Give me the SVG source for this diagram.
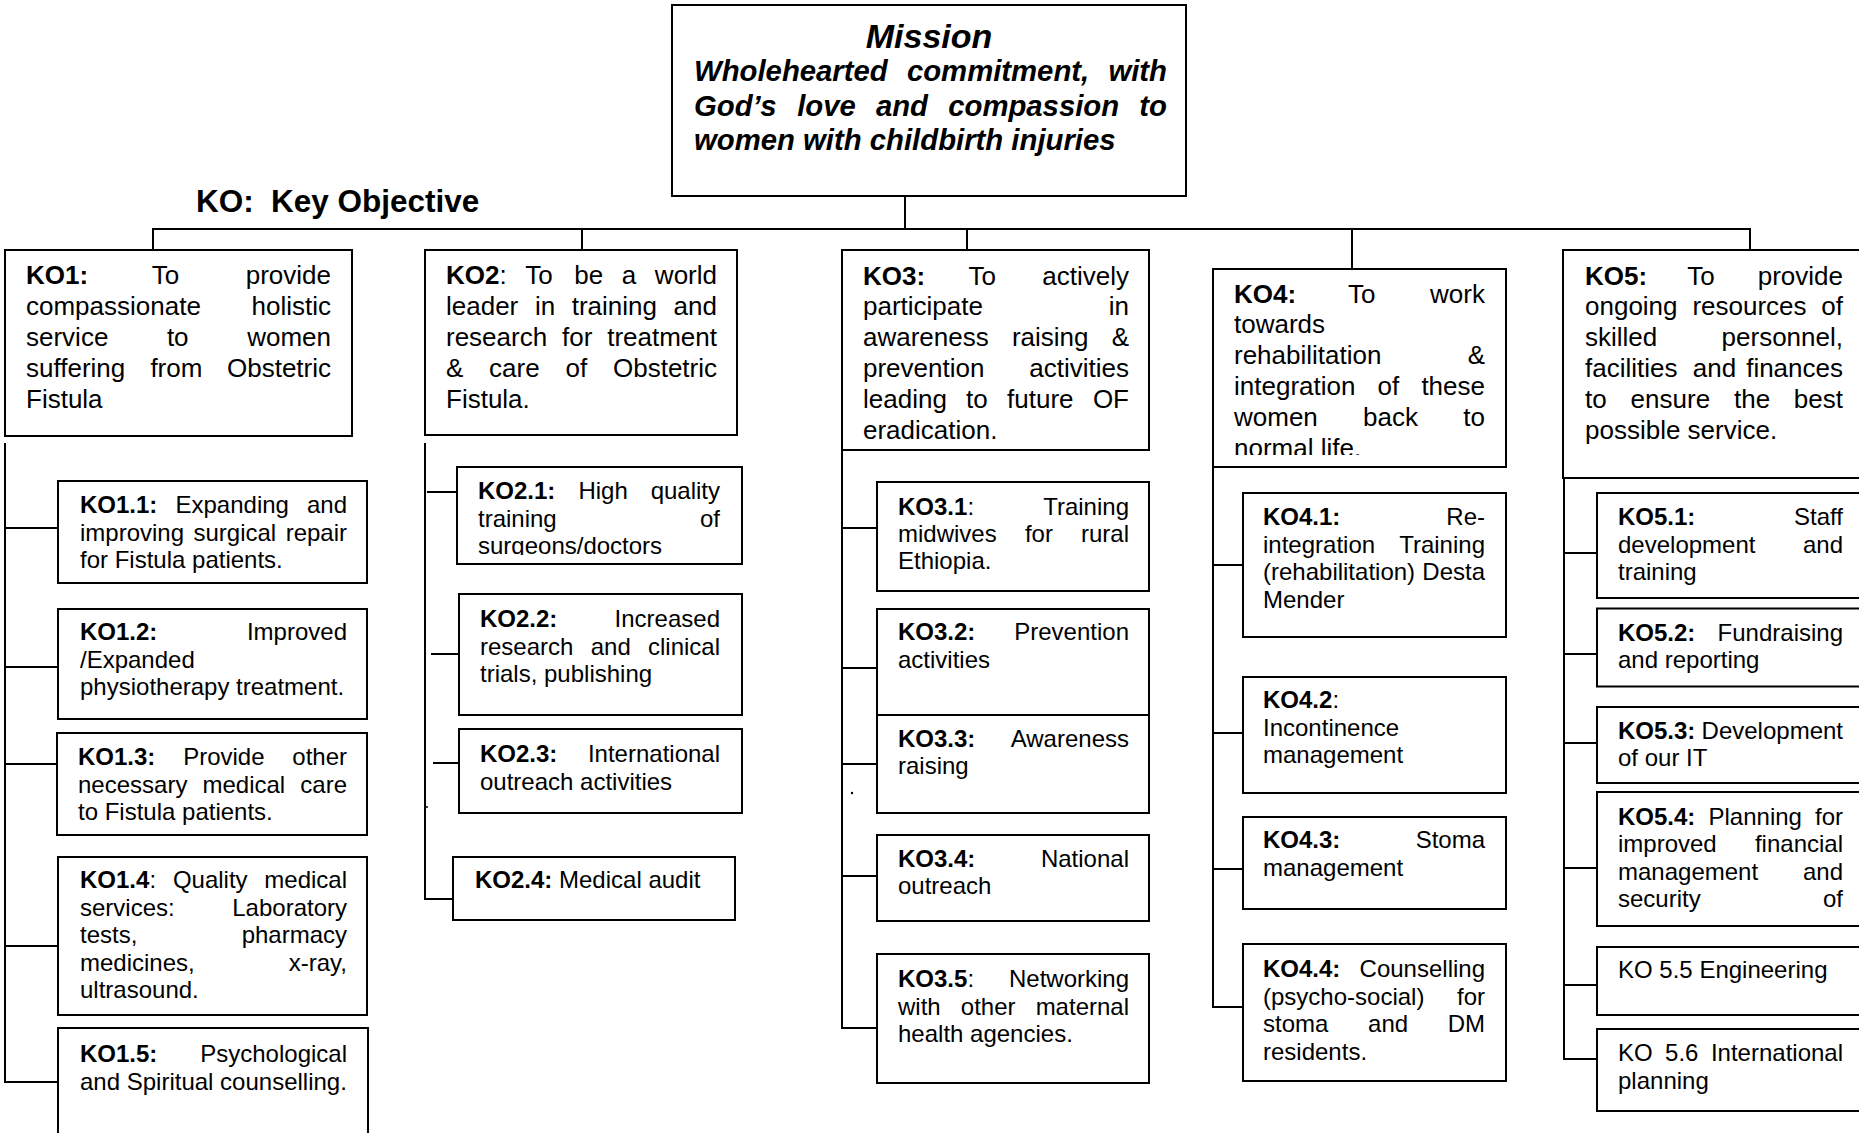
<svg xmlns="http://www.w3.org/2000/svg" width="1859" height="1133" viewBox="0 0 1859 1133">
<style>
rect.box{fill:#fff;stroke:#000;stroke-width:2}
.c line{stroke:#000;stroke-width:2}
text{font-family:"Liberation Sans",Arial,sans-serif;fill:#000}
.m{font-size:26px}
.s{font-size:24px}
.b{font-weight:bold}
.e{text-anchor:end}
.mi{font-weight:bold;font-style:italic;font-size:29.3px}
.mt{font-weight:bold;font-style:italic;font-size:34px;text-anchor:middle}
</style>
<defs>
<clipPath id="clip4"><rect x="1220" y="270" width="280" height="185"/></clipPath>
<clipPath id="clip21"><rect x="460" y="470" width="280" height="85"/></clipPath>
</defs>
<rect width="1859" height="1133" fill="#fff"/>
<g class="c" id="connectors">
<line x1="905" y1="196" x2="905" y2="229"/>
<line x1="152" y1="229" x2="1751" y2="229"/>
<line x1="153" y1="229" x2="153" y2="250"/>
<line x1="582" y1="229" x2="582" y2="250"/>
<line x1="967" y1="229" x2="967" y2="250"/>
<line x1="1352" y1="229" x2="1352" y2="269"/>
<line x1="1750" y1="229" x2="1750" y2="250"/>
<line x1="5" y1="443" x2="5" y2="1083"/>
<line x1="5" y1="528" x2="58" y2="528"/>
<line x1="5" y1="667" x2="58" y2="667"/>
<line x1="5" y1="764" x2="57" y2="764"/>
<line x1="5" y1="946" x2="58" y2="946"/>
<line x1="4" y1="1082" x2="58" y2="1082"/>
<line x1="425" y1="443" x2="425" y2="900"/>
<line x1="427" y1="492" x2="457" y2="492"/>
<line x1="431" y1="654" x2="459" y2="654"/>
<line x1="433" y1="763" x2="459" y2="763"/>
<line x1="424" y1="899" x2="453" y2="899"/>
<line x1="842" y1="358" x2="842" y2="1029"/>
<line x1="842" y1="528" x2="877" y2="528"/>
<line x1="842" y1="668" x2="877" y2="668"/>
<line x1="842" y1="764" x2="877" y2="764"/>
<line x1="842" y1="876" x2="877" y2="876"/>
<line x1="841" y1="1028" x2="877" y2="1028"/>
<line x1="1213" y1="450" x2="1213" y2="1008"/>
<line x1="1213" y1="565" x2="1243" y2="565"/>
<line x1="1213" y1="733" x2="1243" y2="733"/>
<line x1="1213" y1="869" x2="1243" y2="869"/>
<line x1="1212" y1="1007" x2="1243" y2="1007"/>
<line x1="1564" y1="478" x2="1564" y2="1060"/>
<line x1="1564" y1="553" x2="1597" y2="553"/>
<line x1="1564" y1="654" x2="1597" y2="654"/>
<line x1="1564" y1="743" x2="1597" y2="743"/>
<line x1="1564" y1="868" x2="1597" y2="868"/>
<line x1="1564" y1="985" x2="1597" y2="985"/>
<line x1="1563" y1="1059" x2="1597" y2="1059"/>
</g>
<circle cx="852" cy="793" r="1.2" fill="#000"/>
<circle cx="427" cy="807" r="1" fill="#000"/>

<g id="mission">
<rect class="box" x="672" y="5" width="514" height="191"/>
<text class="mt" x="929" y="48">Mission</text>
<text class="mi"><tspan x="694" y="81">Wholehearted</tspan><tspan x="906.9" y="81">commitment,</tspan><tspan x="1167" y="81" class="e">with</tspan></text>
<text class="mi"><tspan x="694" y="115.5">God’s</tspan><tspan x="797.2" y="115.5">love</tspan><tspan x="875.9" y="115.5">and</tspan><tspan x="948.2" y="115.5">compassion</tspan><tspan x="1167" y="115.5" class="e">to</tspan></text>
<text class="mi" x="694" y="150">women with childbirth injuries</text>
</g>

<text id="legend" class="b" font-size="31.5" x="196" y="212">KO:<tspan x="271">Key Objective</tspan></text>

<g id="ko1">
<rect class="box" x="5" y="250" width="347" height="186"/>
<text class="m"><tspan x="26" y="284" class="b">KO1:</tspan><tspan x="151.8" y="284">To</tspan><tspan x="331" y="284" class="e">provide</tspan></text>
<text class="m"><tspan x="26" y="315">compassionate</tspan><tspan x="331" y="315" class="e">holistic</tspan></text>
<text class="m"><tspan x="26" y="346">service</tspan><tspan x="166.9" y="346">to</tspan><tspan x="331" y="346" class="e">women</tspan></text>
<text class="m"><tspan x="26" y="377">suffering</tspan><tspan x="150.4" y="377">from</tspan><tspan x="331" y="377" class="e">Obstetric</tspan></text>
<text class="m" x="26" y="408">Fistula</text>
</g>

<g id="ko2">
<rect class="box" x="425" y="250" width="312" height="185"/>
<text class="m"><tspan x="446" y="284" class="b">KO2</tspan><tspan>:</tspan><tspan x="525.3" y="284">To</tspan><tspan x="574.2" y="284">be</tspan><tspan x="621.7" y="284">a</tspan><tspan x="717" y="284" class="e">world</tspan></text>
<text class="m"><tspan x="446" y="315">leader</tspan><tspan x="534.9" y="315">in</tspan><tspan x="571.7" y="315">training</tspan><tspan x="717" y="315" class="e">and</tspan></text>
<text class="m"><tspan x="446" y="346">research</tspan><tspan x="562" y="346">for</tspan><tspan x="717" y="346" class="e">treatment</tspan></text>
<text class="m"><tspan x="446" y="377">&amp;</tspan><tspan x="489.1" y="377">care</tspan><tspan x="565.5" y="377">of</tspan><tspan x="717" y="377" class="e">Obstetric</tspan></text>
<text class="m" x="446" y="408">Fistula.</text>
</g>

<g id="ko3">
<rect class="box" x="842" y="250" width="307" height="200"/>
<text class="m"><tspan x="863" y="284.5" class="b">KO3:</tspan><tspan x="968.6" y="284.5">To</tspan><tspan x="1129" y="284.5" class="e">actively</tspan></text>
<text class="m"><tspan x="863" y="315.3">participate</tspan><tspan x="1129" y="315.3" class="e">in</tspan></text>
<text class="m"><tspan x="863" y="346.1">awareness</tspan><tspan x="1011.9" y="346.1">raising</tspan><tspan x="1129" y="346.1" class="e">&amp;</tspan></text>
<text class="m"><tspan x="863" y="376.9">prevention</tspan><tspan x="1129" y="376.9" class="e">activities</tspan></text>
<text class="m"><tspan x="863" y="407.7">leading</tspan><tspan x="966.1" y="407.7">to</tspan><tspan x="1007.1" y="407.7">future</tspan><tspan x="1129" y="407.7" class="e">OF</tspan></text>
<text class="m" x="863" y="438.5">eradication.</text>
</g>

<g id="ko4">
<rect class="box" x="1213" y="269" width="293" height="198"/>
<text class="m"><tspan x="1234" y="302.5" class="b">KO4:</tspan><tspan x="1348" y="302.5">To</tspan><tspan x="1485" y="302.5" class="e">work</tspan></text>
<text class="m" x="1234" y="333.4">towards</text>
<text class="m"><tspan x="1234" y="364.3">rehabilitation</tspan><tspan x="1485" y="364.3" class="e">&amp;</tspan></text>
<text class="m"><tspan x="1234" y="395.2">integration</tspan><tspan x="1377.6" y="395.2">of</tspan><tspan x="1485" y="395.2" class="e">these</tspan></text>
<text class="m"><tspan x="1234" y="426.1">women</tspan><tspan x="1363.1" y="426.1">back</tspan><tspan x="1485" y="426.1" class="e">to</tspan></text>
<text class="m" x="1234" y="457" clip-path="url(#clip4)">normal life.</text>
</g>

<g id="ko5">
<rect class="box" x="1563" y="250" width="320" height="228"/>
<text class="m"><tspan x="1585" y="284.5" class="b">KO5:</tspan><tspan x="1687.3" y="284.5">To</tspan><tspan x="1843" y="284.5" class="e">provide</tspan></text>
<text class="m"><tspan x="1585" y="315.3">ongoing</tspan><tspan x="1692.4" y="315.3">resources</tspan><tspan x="1843" y="315.3" class="e">of</tspan></text>
<text class="m"><tspan x="1585" y="346.1">skilled</tspan><tspan x="1843" y="346.1" class="e">personnel,</tspan></text>
<text class="m"><tspan x="1585" y="376.9">facilities</tspan><tspan x="1692.8" y="376.9">and</tspan><tspan x="1843" y="376.9" class="e">finances</tspan></text>
<text class="m"><tspan x="1585" y="407.7">to</tspan><tspan x="1630.6" y="407.7">ensure</tspan><tspan x="1734" y="407.7">the</tspan><tspan x="1843" y="407.7" class="e">best</tspan></text>
<text class="m" x="1585" y="438.5">possible service.</text>
</g>

<g id="ko1-1">
<rect class="box" x="58" y="481" width="309" height="102"/>
<text class="s"><tspan x="80" y="513" class="b">KO1.1:</tspan><tspan x="175.5" y="513">Expanding</tspan><tspan x="347" y="513" class="e">and</tspan></text>
<text class="s"><tspan x="80" y="540.5">improving</tspan><tspan x="193.5" y="540.5">surgical</tspan><tspan x="347" y="540.5" class="e">repair</tspan></text>
<text class="s" x="80" y="568">for Fistula patients.</text>
</g>
<g id="ko1-2">
<rect class="box" x="58" y="609" width="309" height="110"/>
<text class="s"><tspan x="80" y="640" class="b">KO1.2:</tspan><tspan x="347" y="640" class="e">Improved</tspan></text>
<text class="s" x="80" y="667.5">/Expanded</text>
<text class="s" x="80" y="695">physiotherapy treatment.</text>
</g>
<g id="ko1-3">
<rect class="box" x="57" y="733" width="310" height="102"/>
<text class="s"><tspan x="78" y="765" class="b">KO1.3:</tspan><tspan x="183.2" y="765">Provide</tspan><tspan x="347" y="765" class="e">other</tspan></text>
<text class="s"><tspan x="78" y="792.5">necessary</tspan><tspan x="202.5" y="792.5">medical</tspan><tspan x="347" y="792.5" class="e">care</tspan></text>
<text class="s" x="78" y="820">to Fistula patients.</text>
</g>
<g id="ko1-4">
<rect class="box" x="58" y="857" width="309" height="158"/>
<text class="s"><tspan x="80" y="888" class="b">KO1.4</tspan><tspan>:</tspan><tspan x="172.9" y="888">Quality</tspan><tspan x="347" y="888" class="e">medical</tspan></text>
<text class="s"><tspan x="80" y="915.5">services:</tspan><tspan x="347" y="915.5" class="e">Laboratory</tspan></text>
<text class="s"><tspan x="80" y="943">tests,</tspan><tspan x="347" y="943" class="e">pharmacy</tspan></text>
<text class="s"><tspan x="80" y="970.5">medicines,</tspan><tspan x="347" y="970.5" class="e">x-ray,</tspan></text>
<text class="s" x="80" y="998">ultrasound.</text>
</g>
<g id="ko1-5">
<rect class="box" x="58" y="1028" width="310" height="120"/>
<text class="s"><tspan x="80" y="1062" class="b">KO1.5:</tspan><tspan x="347" y="1062" class="e">Psychological</tspan></text>
<text class="s" x="80" y="1089.5">and Spiritual counselling.</text>
</g>

<g id="ko2-1">
<rect class="box" x="457" y="467" width="285" height="97"/>
<text class="s"><tspan x="478" y="499" class="b">KO2.1:</tspan><tspan x="578.4" y="499">High</tspan><tspan x="720" y="499" class="e">quality</tspan></text>
<text class="s"><tspan x="478" y="526.5">training</tspan><tspan x="720" y="526.5" class="e">of</tspan></text>
<text class="s" x="478" y="554" clip-path="url(#clip21)">surgeons/doctors</text>
</g>
<g id="ko2-2">
<rect class="box" x="459" y="594" width="283" height="121"/>
<text class="s"><tspan x="480" y="627" class="b">KO2.2:</tspan><tspan x="720" y="627" class="e">Increased</tspan></text>
<text class="s"><tspan x="480" y="654.5">research</tspan><tspan x="590.7" y="654.5">and</tspan><tspan x="720" y="654.5" class="e">clinical</tspan></text>
<text class="s" x="480" y="682">trials, publishing</text>
</g>
<g id="ko2-3">
<rect class="box" x="459" y="729" width="283" height="84"/>
<text class="s"><tspan x="480" y="762" class="b">KO2.3:</tspan><tspan x="720" y="762" class="e">International</tspan></text>
<text class="s" x="480" y="789.5">outreach activities</text>
</g>
<g id="ko2-4">
<rect class="box" x="453" y="857" width="282" height="63"/>
<text class="s" x="475" y="888"><tspan class="b">KO2.4:</tspan> Medical audit</text>
</g>

<g id="ko3-1">
<rect class="box" x="877" y="482" width="272" height="109"/>
<text class="s"><tspan x="898" y="515" class="b">KO3.1</tspan><tspan>:</tspan><tspan x="1129" y="515" class="e">Training</tspan></text>
<text class="s"><tspan x="898" y="542">midwives</tspan><tspan x="1024.9" y="542">for</tspan><tspan x="1129" y="542" class="e">rural</tspan></text>
<text class="s" x="898" y="569">Ethiopia.</text>
</g>
<g id="ko3-2">
<rect class="box" x="877" y="609" width="272" height="106"/>
<text class="s"><tspan x="898" y="640" class="b">KO3.2:</tspan><tspan x="1129" y="640" class="e">Prevention</tspan></text>
<text class="s" x="898" y="668">activities</text>
</g>
<g id="ko3-3">
<rect class="box" x="877" y="715" width="272" height="98"/>
<text class="s"><tspan x="898" y="747" class="b">KO3.3:</tspan><tspan x="1129" y="747" class="e">Awareness</tspan></text>
<text class="s" x="898" y="774">raising</text>
</g>
<g id="ko3-4">
<rect class="box" x="877" y="835" width="272" height="86"/>
<text class="s"><tspan x="898" y="867" class="b">KO3.4:</tspan><tspan x="1129" y="867" class="e">National</tspan></text>
<text class="s" x="898" y="894">outreach</text>
</g>
<g id="ko3-5">
<rect class="box" x="877" y="954" width="272" height="129"/>
<text class="s"><tspan x="898" y="987" class="b">KO3.5</tspan><tspan>:</tspan><tspan x="1129" y="987" class="e">Networking</tspan></text>
<text class="s"><tspan x="898" y="1014.5">with</tspan><tspan x="960.8" y="1014.5">other</tspan><tspan x="1129" y="1014.5" class="e">maternal</tspan></text>
<text class="s" x="898" y="1042">health agencies.</text>
</g>

<g id="ko4-1">
<rect class="box" x="1243" y="493" width="263" height="144"/>
<text class="s"><tspan x="1263" y="525" class="b">KO4.1:</tspan><tspan x="1485" y="525" class="e">Re-</tspan></text>
<text class="s"><tspan x="1263" y="552.5">integration</tspan><tspan x="1485" y="552.5" class="e">Training</tspan></text>
<text class="s"><tspan x="1263" y="580">(rehabilitation)</tspan><tspan x="1485" y="580" class="e">Desta</tspan></text>
<text class="s" x="1263" y="607.5">Mender</text>
</g>
<g id="ko4-2">
<rect class="box" x="1243" y="677" width="263" height="116"/>
<text class="s" x="1263" y="708"><tspan class="b">KO4.2</tspan>:</text>
<text class="s" x="1263" y="735.5">Incontinence</text>
<text class="s" x="1263" y="763">management</text>
</g>
<g id="ko4-3">
<rect class="box" x="1243" y="817" width="263" height="92"/>
<text class="s"><tspan x="1263" y="848" class="b">KO4.3:</tspan><tspan x="1485" y="848" class="e">Stoma</tspan></text>
<text class="s" x="1263" y="876">management</text>
</g>
<g id="ko4-4">
<rect class="box" x="1243" y="944" width="263" height="137"/>
<text class="s"><tspan x="1263" y="977" class="b">KO4.4:</tspan><tspan x="1485" y="977" class="e">Counselling</tspan></text>
<text class="s"><tspan x="1263" y="1004.5">(psycho-social)</tspan><tspan x="1485" y="1004.5" class="e">for</tspan></text>
<text class="s"><tspan x="1263" y="1032">stoma</tspan><tspan x="1368.1" y="1032">and</tspan><tspan x="1485" y="1032" class="e">DM</tspan></text>
<text class="s" x="1263" y="1059.5">residents.</text>
</g>

<g id="ko5-1">
<rect class="box" x="1597" y="493" width="290" height="105"/>
<text class="s"><tspan x="1618" y="525" class="b">KO5.1:</tspan><tspan x="1843" y="525" class="e">Staff</tspan></text>
<text class="s"><tspan x="1618" y="552.5">development</tspan><tspan x="1843" y="552.5" class="e">and</tspan></text>
<text class="s" x="1618" y="580">training</text>
</g>
<g id="ko5-2">
<rect class="box" x="1597" y="608.5" width="290" height="78"/>
<text class="s"><tspan x="1618" y="640.5" class="b">KO5.2:</tspan><tspan x="1843" y="640.5" class="e">Fundraising</tspan></text>
<text class="s" x="1618" y="668">and reporting</text>
</g>
<g id="ko5-3">
<rect class="box" x="1597" y="707" width="290" height="76"/>
<text class="s"><tspan x="1618" y="738.5" class="b">KO5.3:</tspan><tspan x="1843" y="738.5" class="e">Development</tspan></text>
<text class="s" x="1618" y="766">of our IT</text>
</g>
<g id="ko5-4">
<rect class="box" x="1597" y="792" width="290" height="134"/>
<text class="s"><tspan x="1618" y="824.5" class="b">KO5.4:</tspan><tspan x="1708.5" y="824.5">Planning</tspan><tspan x="1843" y="824.5" class="e">for</tspan></text>
<text class="s"><tspan x="1618" y="852">improved</tspan><tspan x="1843" y="852" class="e">financial</tspan></text>
<text class="s"><tspan x="1618" y="879.5">management</tspan><tspan x="1843" y="879.5" class="e">and</tspan></text>
<text class="s"><tspan x="1618" y="907">security</tspan><tspan x="1843" y="907" class="e">of</tspan></text>
</g>
<g id="ko5-5">
<rect class="box" x="1597" y="947" width="290" height="68"/>
<text class="s" x="1618" y="978">KO 5.5 Engineering</text>
</g>
<g id="ko5-6">
<rect class="box" x="1597" y="1029" width="290" height="82"/>
<text class="s"><tspan x="1618" y="1061">KO</tspan><tspan x="1665.1" y="1061">5.6</tspan><tspan x="1843" y="1061" class="e">International</tspan></text>
<text class="s" x="1618" y="1088.5">planning</text>
</g>
</svg>
